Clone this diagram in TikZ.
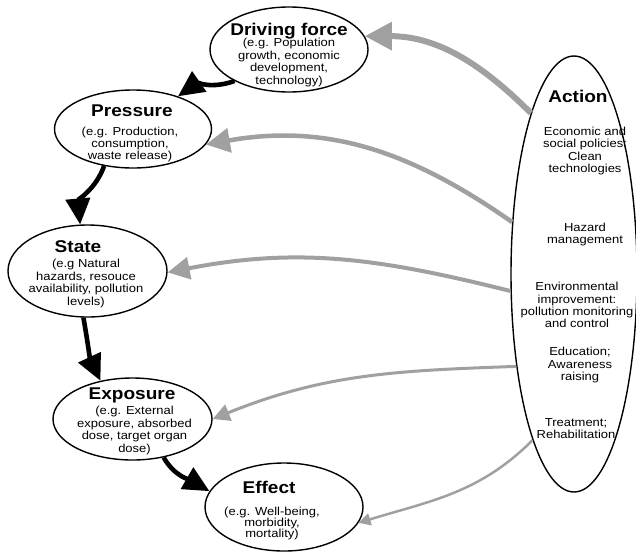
\documentclass[tikz,border=0pt]{standalone}
\usepackage{fontspec}
\setmainfont{Liberation Sans}
\newfontfamily\dpsfont[FakeStretch=1.12]{Liberation Sans}
\usetikzlibrary{shapes.geometric, arrows.meta}
\definecolor{actgray}{RGB}{160,160,160}

\begin{document}
\begin{tikzpicture}[x = 1pt, y = 1pt,
	stage/.style = {draw, ellipse, line width = 1.4pt, inner sep = 0pt},
	head/.style = {font = \dpsfont\bfseries\fontsize{17}{18}\selectfont, anchor = base, inner sep = 0pt},
	note/.style = {font = \dpsfont\fontsize{11.6}{#1}\selectfont, align = center, inner sep = 0pt},
	note/.default = 12.4,
	link/.style = {line width = 4.6pt, -{Triangle[length = 26pt, width = 24pt]}},
	feed/.style 2 args = {draw = actgray, line width = #1, -{Triangle[length = #2, width = #2]}}]

	% Frame
	
	\useasboundingbox (0, 0) rectangle (636, -552);

	% Stages of the chain
	
	\node [stage, minimum width = 158pt, minimum height = 85pt] (drive) at (289, -49.5) {};
	\node [stage, minimum width = 157pt, minimum height = 78pt] (press) at (133, -129) {};
	\node [stage, minimum width = 159pt, minimum height = 92pt] (state) at (87.5, -271) {};
	\node [stage, minimum width = 159pt, minimum height = 82pt] (expo) at (132.5, -419) {};
	\node [stage, minimum width = 158pt, minimum height = 88pt] (effect) at (284, -507) {};
	
	% Action
	
	\node [stage, minimum width = 126pt, minimum height = 436pt] (action) at (574, -274) {};

	% Texts of the stages
	
	\node [head] (driveT) at (289, -35) {Driving force};
	\node [note] (driveN) at (289, -62.5) {(e.g. Population\\growth, economic\\development,\\technology)};
	
	\node [head] (pressT) at (132, -116) {Pressure};
	\node [note] (pressN) at (130, -144.5) {(e.g. Production,\\consumption,\\waste release)};
	
	\node [head] (stateT) at (78, -252) {State};
	\node [note] (stateN) at (86, -283.5) {(e.g Natural\\hazards, resouce\\availability, pollution\\levels)};
	
	\node [head] (expoT) at (132, -399) {Exposure};
	\node [note] (expoN) at (134.5, -430.5) {(e.g. External\\exposure, absorbed\\dose, target organ\\dose)};
	
	\node [head] (effectT) at (269, -493) {Effect};
	\node [note = 11] (effectN) at (272, -523) {(e.g. Well-being,\\morbidity,\\mortality)};

	% Texts of the actions
	
	\node [head] (actionT) at (578, -102) {Action};
	\node [note = 12.2] (act1) at (585, -151) {Economic and\\social policies;\\Clean\\technologies};
	\node [note = 12] (act2) at (585, -234) {Hazard\\management};
	\node [note = 12.2] (act3) at (577, -305) {Environmental\\improvement:\\pollution monitoring\\and control};
	\node [note = 12.8] (act4) at (580, -365) {Education;\\Awareness\\raising};
	\node [note = 12] (act5) at (576, -429) {Treatment;\\Rehabilitation};

	% Causal chain
	
	\draw [link] (drive.210) to [out = 200, in = 35] (press.36);
	\draw [link] (press.232) to [out = 250, in = 95] (state.99);
	\draw [link] (state.265) to [out = 280, in = 115] (expo.130);
	\draw [link] (expo.309) to [out = 300, in = 150] (effect.168);

	% Feedback of the actions
	
	\draw [feed = {6pt}{27pt}] (action.105) to [out = 135, in = 0] (drive.10);
	\draw [feed = {4.5pt}{24pt}] (action.140) to [out = 145, in = 10] (press.-12);
	\draw [feed = {4pt}{22pt}] (action.195) to [out = 166, in = 11] (state.-1);
	\draw [feed = {3pt}{17pt}] (action.238) to [out = 182, in = 22] (expo.0);
	\draw [feed = {2.5pt}{12pt}] (action.256) to [out = 225, in = 17] (effect.-12);

\end{tikzpicture}
\end{document}
